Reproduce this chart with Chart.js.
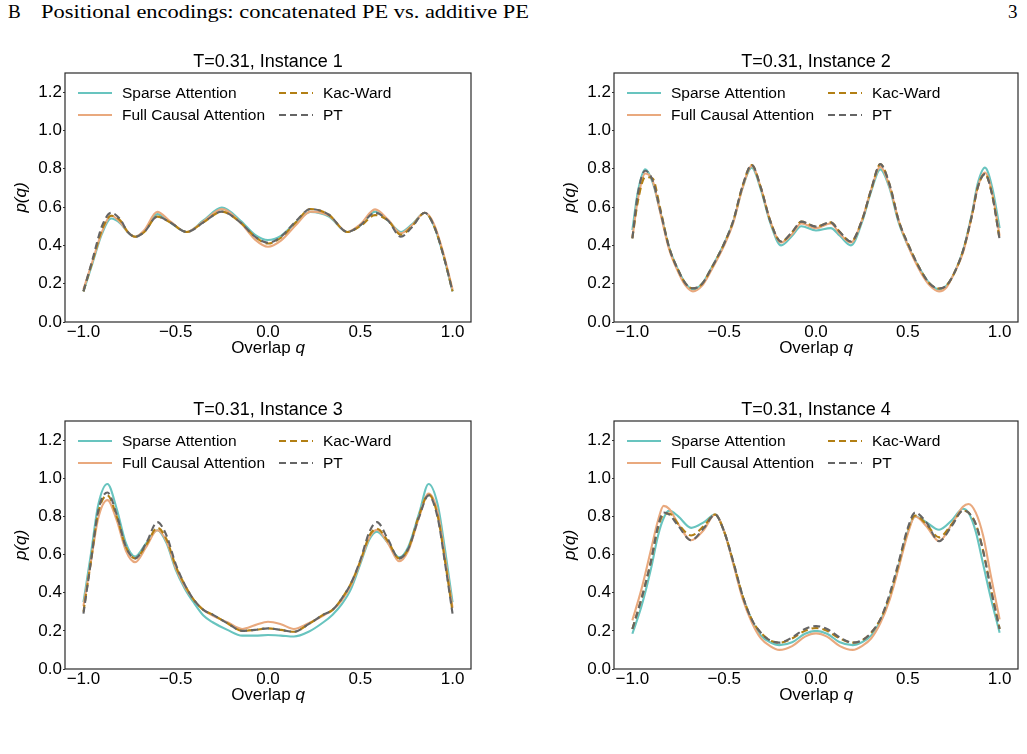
<!DOCTYPE html>
<html><head><meta charset="utf-8">
<script src="https://cdn.jsdelivr.net/npm/chart.js@4.4.1/dist/chart.umd.min.js"></script>
<style>
html,body{margin:0;padding:0;background:#fff;}
body{width:1027px;height:754px;overflow:hidden;position:relative;}
canvas{position:absolute;}
#hdr{position:absolute;left:8px;top:1px;font-family:'Liberation Serif',serif;font-size:19px;white-space:nowrap;color:#000;}
#hdrB{position:absolute;left:0;top:0;}
#hdrT{position:absolute;left:33px;top:0;transform-origin:0 0;}
#pg{position:absolute;left:1008px;top:1px;font-family:'Liberation Serif',serif;font-size:19px;color:#000;}
</style></head>
<body>
<div id="hdr"><span id="hdrB">B</span><span id="hdrT">Positional encodings: concatenated PE vs. additive PE</span></div>
<div id="pg">3</div>
<canvas id="c1" width="500" height="330" style="left:0;top:40px"></canvas>
<canvas id="c2" width="478" height="330" style="left:549px;top:40px"></canvas>
<canvas id="c3" width="500" height="329" style="left:0;top:388px"></canvas>
<canvas id="c4" width="478" height="329" style="left:549px;top:388px"></canvas>
<script>
// ---------- data ----------
const seriesNames = ['Sparse Attention','Full Causal Attention','Kac-Ward','PT'];
const titles = ['T=0.31, Instance 1','T=0.31, Instance 2','T=0.31, Instance 3','T=0.31, Instance 4'];
const xTicks = [-1,-0.5,0,0.5,1];
const xTickLabels = ['\u22121.0','\u22120.5','0.0','0.5','1.0'];
const yTicks = [0,0.2,0.4,0.6,0.8,1.0,1.2];
const yTickLabels = ['0.0','0.2','0.4','0.6','0.8','1.0','1.2'];

// Instance 1
const q1 = [-1,-0.95,-0.9,-0.85,-0.8,-0.76,-0.72,-0.67,-0.6,-0.53,-0.44,-0.35,-0.25,-0.15,-0.07,0,0.07,0.15,0.23,0.33,0.43,0.5,0.58,0.65,0.72,0.78,0.85,0.9,0.95,1.0];
const sparse1 = [0.16,0.31,0.46,0.54,0.515,0.47,0.445,0.475,0.563,0.52,0.47,0.53,0.597,0.53,0.455,0.428,0.45,0.52,0.575,0.55,0.47,0.505,0.576,0.53,0.47,0.51,0.57,0.5,0.35,0.16];
const full1 = [0.17,0.32,0.47,0.555,0.52,0.47,0.445,0.48,0.575,0.525,0.47,0.525,0.59,0.52,0.43,0.393,0.425,0.505,0.576,0.555,0.47,0.51,0.588,0.535,0.463,0.505,0.57,0.51,0.36,0.17];
const kw1 = [0.16,0.32,0.48,0.555,0.53,0.47,0.445,0.47,0.55,0.52,0.47,0.52,0.576,0.52,0.445,0.41,0.44,0.52,0.59,0.56,0.47,0.5,0.558,0.53,0.455,0.5,0.57,0.5,0.35,0.16];
const pt1 = [0.16,0.33,0.5,0.57,0.535,0.47,0.445,0.47,0.55,0.52,0.47,0.52,0.576,0.52,0.445,0.414,0.445,0.525,0.59,0.56,0.47,0.505,0.57,0.53,0.445,0.495,0.57,0.5,0.35,0.16];

// Instance 2
const q2 = [-1,-0.97,-0.93,-0.89,-0.85,-0.8,-0.75,-0.71,-0.67,-0.62,-0.57,-0.5,-0.45,-0.4,-0.35,-0.3,-0.25,-0.19,-0.13,-0.08,0,0.08,0.13,0.19,0.25,0.3,0.35,0.4,0.45,0.5,0.57,0.62,0.67,0.71,0.75,0.8,0.85,0.88,0.92,0.96,1.0];
const sparse2 = [0.48,0.68,0.797,0.73,0.585,0.39,0.27,0.2,0.17,0.2,0.28,0.41,0.525,0.7,0.805,0.69,0.52,0.4,0.45,0.5,0.478,0.49,0.45,0.4,0.52,0.68,0.797,0.7,0.52,0.4,0.27,0.2,0.17,0.19,0.25,0.37,0.57,0.72,0.806,0.7,0.49];
const full2 = [0.44,0.64,0.775,0.74,0.58,0.38,0.26,0.19,0.16,0.19,0.27,0.4,0.52,0.7,0.815,0.7,0.53,0.415,0.46,0.515,0.49,0.515,0.46,0.415,0.53,0.69,0.81,0.71,0.53,0.4,0.26,0.19,0.16,0.18,0.25,0.36,0.56,0.7,0.78,0.67,0.45];
const kw2 = [0.437,0.63,0.756,0.75,0.6,0.39,0.27,0.2,0.176,0.2,0.28,0.41,0.53,0.71,0.82,0.7,0.53,0.42,0.47,0.524,0.498,0.52,0.47,0.42,0.53,0.69,0.824,0.72,0.53,0.41,0.27,0.2,0.175,0.19,0.25,0.37,0.56,0.7,0.772,0.66,0.43];
const pt2 = [0.437,0.67,0.79,0.74,0.59,0.39,0.27,0.2,0.176,0.2,0.28,0.41,0.53,0.71,0.82,0.7,0.53,0.42,0.47,0.524,0.498,0.52,0.47,0.42,0.53,0.69,0.824,0.72,0.53,0.41,0.27,0.2,0.175,0.19,0.25,0.37,0.56,0.7,0.772,0.66,0.43];

// Instance 3
const q3 = [-1,-0.96,-0.92,-0.87,-0.82,-0.77,-0.72,-0.66,-0.6,-0.55,-0.5,-0.45,-0.4,-0.35,-0.3,-0.22,-0.14,-0.07,0,0.07,0.14,0.22,0.3,0.35,0.4,0.45,0.5,0.55,0.59,0.65,0.71,0.76,0.82,0.87,0.92,0.96,1.0];
const sparse3 = [0.35,0.6,0.86,0.97,0.84,0.66,0.59,0.66,0.727,0.66,0.52,0.42,0.345,0.28,0.245,0.205,0.175,0.175,0.178,0.175,0.17,0.195,0.245,0.285,0.34,0.42,0.55,0.68,0.72,0.66,0.585,0.64,0.82,0.97,0.86,0.62,0.35];
const full3 = [0.33,0.56,0.79,0.885,0.78,0.62,0.56,0.64,0.727,0.67,0.53,0.43,0.36,0.31,0.28,0.245,0.21,0.23,0.248,0.235,0.21,0.24,0.28,0.31,0.36,0.44,0.56,0.69,0.73,0.66,0.565,0.62,0.8,0.92,0.82,0.58,0.32];
const kw3 = [0.3,0.56,0.82,0.91,0.8,0.64,0.58,0.65,0.74,0.68,0.54,0.44,0.36,0.31,0.285,0.24,0.2,0.205,0.213,0.205,0.195,0.235,0.285,0.31,0.37,0.45,0.565,0.7,0.735,0.67,0.58,0.63,0.81,0.915,0.8,0.56,0.3];
const pt3 = [0.29,0.56,0.83,0.925,0.81,0.64,0.58,0.66,0.77,0.7,0.55,0.44,0.36,0.31,0.285,0.24,0.2,0.205,0.213,0.205,0.195,0.235,0.285,0.31,0.37,0.45,0.57,0.72,0.77,0.68,0.58,0.63,0.8,0.91,0.79,0.55,0.29];

// Instance 4
const q4 = [-1,-0.95,-0.9,-0.86,-0.83,-0.8,-0.75,-0.68,-0.61,-0.55,-0.5,-0.45,-0.4,-0.35,-0.3,-0.25,-0.2,-0.13,-0.06,0,0.06,0.13,0.2,0.25,0.3,0.35,0.4,0.45,0.5,0.54,0.6,0.67,0.74,0.8,0.83,0.87,0.91,0.95,1.0];
const sparse4 = [0.185,0.33,0.52,0.7,0.79,0.83,0.8,0.74,0.77,0.81,0.72,0.553,0.38,0.256,0.175,0.14,0.125,0.14,0.185,0.2,0.185,0.14,0.125,0.14,0.175,0.25,0.37,0.54,0.72,0.8,0.77,0.73,0.78,0.84,0.82,0.72,0.55,0.38,0.19];
const full4 = [0.255,0.42,0.62,0.78,0.855,0.84,0.76,0.675,0.73,0.81,0.72,0.55,0.37,0.245,0.16,0.12,0.1,0.12,0.17,0.187,0.17,0.12,0.1,0.12,0.16,0.24,0.36,0.53,0.71,0.8,0.75,0.67,0.76,0.85,0.865,0.82,0.7,0.5,0.26];
const kw4 = [0.21,0.37,0.56,0.74,0.81,0.815,0.76,0.7,0.75,0.81,0.72,0.56,0.385,0.26,0.19,0.15,0.138,0.16,0.2,0.215,0.2,0.16,0.138,0.15,0.19,0.26,0.38,0.55,0.73,0.805,0.76,0.69,0.76,0.83,0.82,0.76,0.62,0.43,0.21];
const pt4 = [0.21,0.37,0.56,0.75,0.82,0.81,0.75,0.675,0.74,0.81,0.72,0.56,0.385,0.26,0.19,0.15,0.138,0.165,0.21,0.225,0.21,0.165,0.138,0.15,0.19,0.26,0.39,0.56,0.74,0.82,0.77,0.67,0.75,0.83,0.82,0.76,0.62,0.43,0.21];

// ---------- styles ----------
const FONT = '"Liberation Sans", Arial, sans-serif';
const lineStyles = [
  {color:'#68c4bf', dash:[]},
  {color:'#e9a97e', dash:[]},
  {color:'#b27f14', dash:[7,4]},
  {color:'#656565', dash:[7,4]}
];

const deco = {
  id:'deco',
  afterDatasetsDraw(chart, args, opts){
    const ctx = chart.ctx, a = chart.chartArea;
    ctx.save();
    // frame
    ctx.strokeStyle = '#2a2a2a'; ctx.lineWidth = 1.2; ctx.setLineDash([]);
    ctx.strokeRect(a.left, a.top, a.right - a.left, a.bottom - a.top);
    ctx.fillStyle = '#000';
    // title
    ctx.font = '18px ' + FONT; ctx.textAlign = 'center'; ctx.textBaseline = 'middle';
    ctx.fillText(opts.title, (a.left + a.right) / 2, a.top - 11);
    // x label
    ctx.font = '17px ' + FONT;
    const w1 = ctx.measureText('Overlap ').width;
    ctx.font = 'italic 17px ' + FONT;
    const w2 = ctx.measureText('q').width;
    let x0 = (a.left + a.right) / 2 - (w1 + w2) / 2;
    ctx.textAlign = 'left';
    ctx.font = '17px ' + FONT; ctx.fillText('Overlap ', x0, a.bottom + 26);
    ctx.font = 'italic 17px ' + FONT; ctx.fillText('q', x0 + w1, a.bottom + 26);
    // y label
    ctx.save();
    ctx.translate(a.left - 44, (a.top + a.bottom) / 2);
    ctx.rotate(-Math.PI / 2);
    ctx.textAlign = 'center';
    ctx.font = 'italic 17px ' + FONT;
    ctx.fillText('p(q)', 0, 0);
    ctx.restore();
    // legend
    ctx.font = '15.5px ' + FONT; ctx.textAlign = 'left'; ctx.textBaseline = 'middle';
    chart.data.datasets.forEach((ds, i) => {
      const col = i < 2 ? 0 : 1, row = i % 2;
      const hx = a.left + 13 + col * 201;
      const hy = a.top + 20 + row * 22;
      ctx.strokeStyle = ds.borderColor; ctx.lineWidth = 2;
      ctx.setLineDash(ds.borderDash || []);
      ctx.beginPath(); ctx.moveTo(hx, hy); ctx.lineTo(hx + 34, hy); ctx.stroke();
      ctx.setLineDash([]);
      ctx.fillStyle = '#000';
      ctx.fillText(ds.label, hx + 44, hy + 1);
    });
    ctx.restore();
  }
};

function pts(q, v){ return q.map((x, i) => ({x: x, y: v[i]})); }

function makeChart(id, title, q, series, rightPad){
  const datasets = series.map((v, i) => ({
    label: seriesNames[i],
    data: pts(q, v),
    borderColor: lineStyles[i].color,
    borderDash: lineStyles[i].dash,
    borderWidth: 2.1,
    pointRadius: 0,
    fill: false,
    cubicInterpolationMode: 'monotone',
    order: 4 - i
  }));
  new Chart(document.getElementById(id), {
    type: 'line',
    data: {datasets},
    plugins: [deco],
    options: {
      responsive: false, animation: false, devicePixelRatio: 1,
      layout: {padding: {top: 33, right: rightPad, left: 0, bottom: 0}},
      plugins: {legend: {display: false}, tooltip: {enabled: false}, title: {display: false}, deco: {title}},
      scales: {
        x: {
          type: 'linear', min: -1.1, max: 1.1,
          afterFit: s => { s.height = 48; },
          afterBuildTicks: s => { s.ticks = xTicks.map(v => ({value: v})); },
          ticks: {callback: (v, i) => xTickLabels[i], font: {family: FONT, size: 17}, color: '#000', padding: 0, maxRotation: 0, autoSkip: false},
          grid: {display: true, drawOnChartArea: false, drawTicks: false, tickLength: 0, color: '#333'},
          border: {display: false}
        },
        y: {
          type: 'linear', min: 0, max: 1.3,
          afterFit: s => { s.width = 65; },
          afterBuildTicks: s => { s.ticks = yTicks.map(v => ({value: v})); },
          ticks: {callback: (v, i) => yTickLabels[i], font: {family: FONT, size: 17}, color: '#000', padding: 1, autoSkip: false},
          grid: {display: true, drawOnChartArea: false, tickLength: 2, color: '#333'},
          border: {display: false}
        }
      }
    }
  });
}

makeChart('c1', titles[0], q1, [sparse1, full1, kw1, pt1], 29);
makeChart('c2', titles[1], q2, [sparse2, full2, kw2, pt2], 9);
makeChart('c3', titles[2], q3, [sparse3, full3, kw3, pt3], 29);
makeChart('c4', titles[3], q4, [sparse4, full4, kw4, pt4], 9);

// header width fit (Computer Modern is wider than Times)
const ht = document.getElementById('hdrT');
const w = ht.getBoundingClientRect().width;
ht.style.transform = 'scaleX(' + (488 / w) + ')';
</script>
</body></html>
